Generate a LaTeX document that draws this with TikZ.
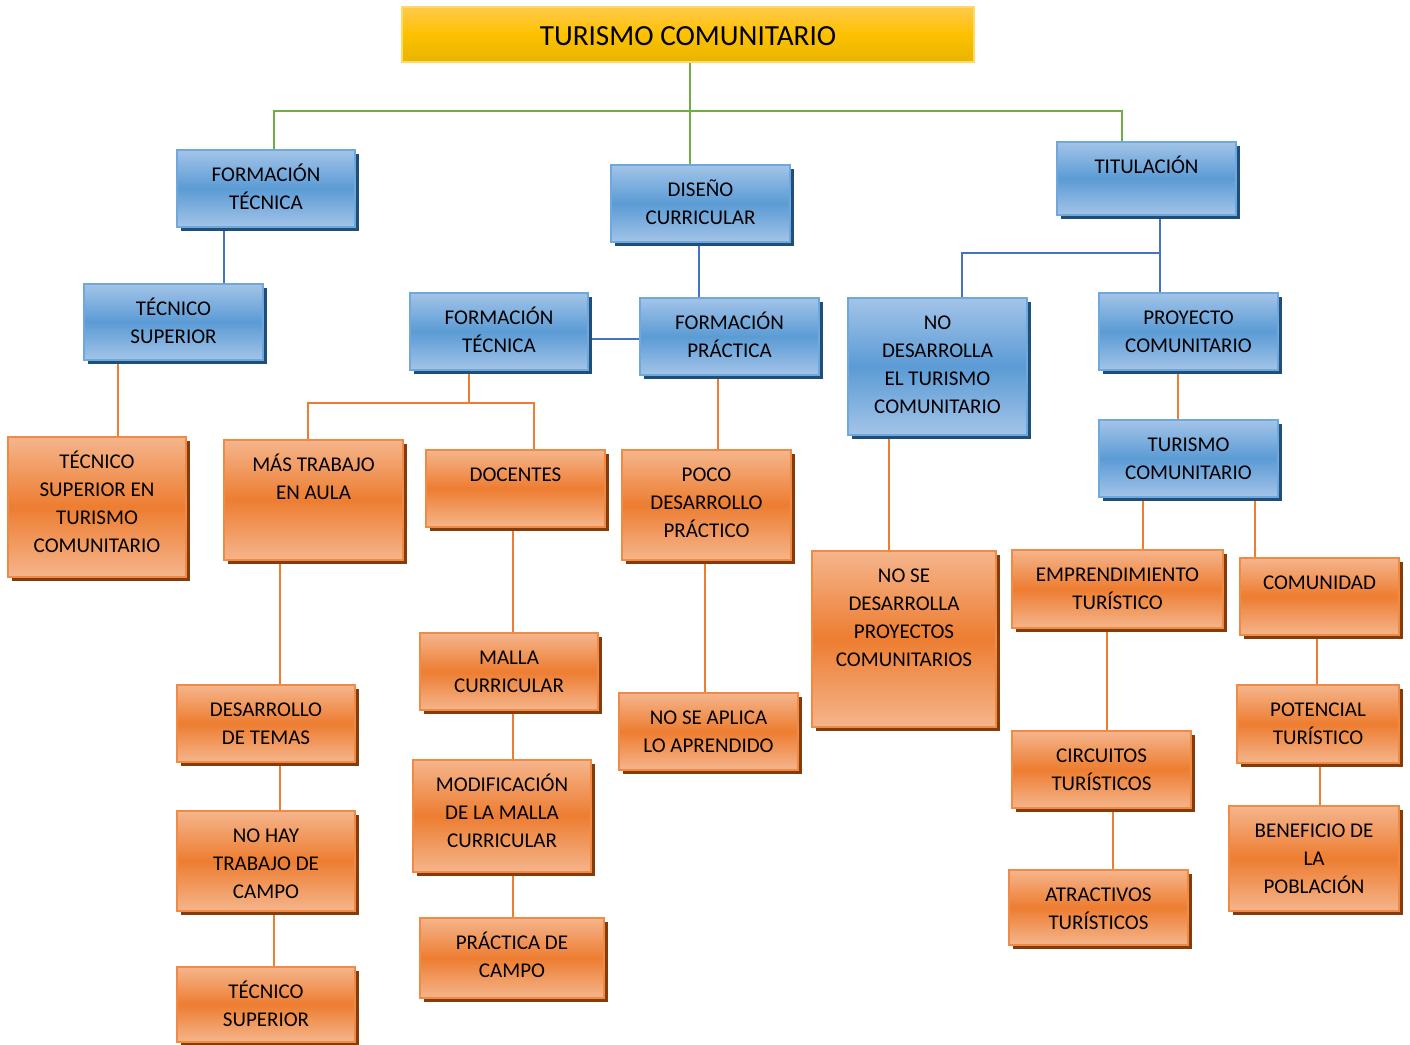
\documentclass[tikz,border=0pt]{standalone}
\usepackage{fontspec}
\setmainfont{Carlito}
\usetikzlibrary{fit,shadows,backgrounds}

\definecolor{blueLt}{HTML}{A3C4E8}
\definecolor{blueMd}{HTML}{5B9BD5}
\definecolor{blueEdge}{HTML}{6FA8DC}
\definecolor{blueShd}{HTML}{1F4E79}
\definecolor{oraLt}{HTML}{F5B58C}
\definecolor{oraMd}{HTML}{ED7D31}
\definecolor{oraEdge}{HTML}{F08A45}
\definecolor{oraShd}{HTML}{843C0C}
\definecolor{yelLt}{HTML}{FFC94A}
\definecolor{yelMd}{HTML}{FDC100}
\definecolor{yelDk}{HTML}{E6B500}
\definecolor{yelEdge}{HTML}{FFD966}
\definecolor{lineG}{HTML}{70AD47}
\definecolor{lineB}{HTML}{4472C4}
\definecolor{lineO}{HTML}{ED7D31}

\tikzset{
  boxbase/.style={rectangle, inner sep=0pt, line width=1pt},
  bluebox/.style={boxbase, draw=blueEdge, top color=blueLt, bottom color=blueLt, middle color=blueMd,
    drop shadow={shadow xshift=2pt, shadow yshift=-2pt, fill=blueShd, opacity=1}},
  orabox/.style={boxbase, draw=oraEdge, top color=oraLt, bottom color=oraLt, middle color=oraMd,
    drop shadow={shadow xshift=2pt, shadow yshift=-2pt, fill=oraShd, opacity=1}},
  titlebox/.style={boxbase, draw=yelEdge, top color=yelLt, bottom color=yelDk, middle color=yelMd},
  titletext/.style={anchor=center, inner sep=0pt, yshift=-0.7pt, font=\fontsize{14.6}{17}\selectfont},
  boxtext/.style={anchor=north, align=center, inner sep=0pt, yshift=-6.4pt,
    font=\fontsize{10.5}{14}\selectfont},
  gl/.style={draw=lineG, line width=1pt},
  bl/.style={draw=lineB, line width=1pt},
  ol/.style={draw=lineO, line width=1pt},
}

% #1 style, #2 name, #3 #4 top-left, #5 #6 bottom-right, #7 text
\newcommand\mapbox[7]{%
  \node[#1, fit={(#3,#4)(#5,#6)}] (#2) {};
  \node[boxtext] (#2-t) at (#2.north) {\strut #7};
}

\begin{document}
\begin{tikzpicture}[x=0.5pt, y=-0.5pt]
\useasboundingbox (0,0) rectangle (1410,1045);

% title
\node[titlebox, fit={(402,7)(974,62)}] (title) {};
\node[titletext] (title-t) at (title.center) {TURISMO COMUNITARIO};

% first level (blue)
\mapbox{bluebox}{ft1}{177}{150}{355}{227}{FORMACIÓN\\TÉCNICA}
\mapbox{bluebox}{dc}{611}{165}{790}{242}{DISEÑO\\CURRICULAR}
\mapbox{bluebox}{tit}{1057}{142}{1236}{215}{TITULACIÓN}
\mapbox{bluebox}{ts1}{84}{284}{263}{360}{TÉCNICO\\SUPERIOR}
\mapbox{bluebox}{ft2}{410}{293}{588}{370}{FORMACIÓN\\TÉCNICA}
\mapbox{bluebox}{fp}{640}{298}{819}{375}{FORMACIÓN\\PRÁCTICA}
\mapbox{bluebox}{nd}{848}{298}{1027}{435}{NO\\DESARROLLA\\EL TURISMO\\COMUNITARIO}
\mapbox{bluebox}{pc}{1099}{293}{1278}{370}{PROYECTO\\COMUNITARIO}
\mapbox{bluebox}{tc}{1099}{420}{1278}{497}{TURISMO\\COMUNITARIO}

% lower levels (orange)
\mapbox{orabox}{tset}{8}{437}{186}{577}{TÉCNICO\\SUPERIOR EN\\TURISMO\\COMUNITARIO}
\mapbox{orabox}{mt}{224}{440}{403}{560}{MÁS TRABAJO\\EN AULA}
\mapbox{orabox}{doc}{426}{450}{605}{527}{DOCENTES}
\mapbox{orabox}{poco}{622}{450}{791}{560}{POCO\\DESARROLLO\\PRÁCTICO}
\mapbox{orabox}{nsd}{812}{551}{996}{727}{NO SE\\DESARROLLA\\PROYECTOS\\COMUNITARIOS}
\mapbox{orabox}{emp}{1012}{550}{1223}{628}{EMPRENDIMIENTO\\TURÍSTICO}
\mapbox{orabox}{com}{1240}{558}{1399}{635}{COMUNIDAD}
\mapbox{orabox}{dt}{177}{685}{355}{762}{DESARROLLO\\DE TEMAS}
\mapbox{orabox}{mc}{420}{633}{598}{710}{MALLA\\CURRICULAR}
\mapbox{orabox}{nsa}{619}{693}{798}{770}{NO SE APLICA\\LO APRENDIDO}
\mapbox{orabox}{cir}{1012}{731}{1191}{808}{CIRCUITOS\\TURÍSTICOS}
\mapbox{orabox}{pot}{1237}{685}{1399}{763}{POTENCIAL\\TURÍSTICO}
\mapbox{orabox}{nh}{177}{811}{355}{911}{NO HAY\\TRABAJO DE\\CAMPO}
\mapbox{orabox}{mod}{413}{760}{591}{872}{MODIFICACIÓN\\DE LA MALLA\\CURRICULAR}
\mapbox{orabox}{atr}{1009}{870}{1188}{945}{ATRACTIVOS\\TURÍSTICOS}
\mapbox{orabox}{ben}{1229}{806}{1399}{911}{BENEFICIO DE\\LA\\POBLACIÓN}
\mapbox{orabox}{ts2}{177}{967}{355}{1042}{TÉCNICO\\SUPERIOR}
\mapbox{orabox}{pdc}{420}{918}{604}{998}{PRÁCTICA DE\\CAMPO}

\begin{scope}[on background layer]
  % green bus under the title
  \coordinate (busL) at (274,111);
  \coordinate (busM) at (690,111);
  \coordinate (busR) at (1122,111);
  \draw[gl] (title.south -| busM) -- (dc.north -| busM);
  \draw[gl] (ft1.north -| busL) |- (busR) -- (tit.north -| busR);

  % blue links
  \draw[bl] (ft1.south -| 224,0) -- (ts1.north -| 224,0);
  \draw[bl] (dc.south -| 699,0) -- (fp.north -| 699,0);
  \draw[bl] (ft2.east |- 0,339) -- (fp.west |- 0,339);
  \coordinate (tj) at (1160,253);
  \draw[bl] (tit.south -| tj) -- (tj) -| (nd.north -| 962,0);
  \draw[bl] (tj) -- (pc.north -| tj);

  % orange links
  \draw[ol] (ts1.south -| 118,0) -- (tset.north -| 118,0);
  \coordinate (fj) at (469,403);
  \draw[ol] (ft2.south -| fj) -- (fj);
  \draw[ol] (mt.north -| 308,0) |- (fj) -| (doc.north -| 534,0);
  \draw[ol] (fp.south -| 718,0) -- (poco.north -| 718,0);
  \draw[ol] (nd.south -| 889,0) -- (nsd.north -| 889,0);
  \draw[ol] (pc.south -| 1178,0) -- (tc.north -| 1178,0);
  \draw[ol] (tc.south -| 1143,0) -- (emp.north -| 1143,0);
  \draw[ol] (tc.south -| 1255,0) -- (com.north -| 1255,0);
  \draw[ol] (mt.south -| 280,0) -- (dt.north -| 280,0);
  \draw[ol] (doc.south -| 513,0) -- (mc.north -| 513,0);
  \draw[ol] (poco.south -| 705,0) -- (nsa.north -| 705,0);
  \draw[ol] (emp.south -| 1107,0) -- (cir.north -| 1107,0);
  \draw[ol] (com.south -| 1317,0) -- (pot.north -| 1317,0);
  \draw[ol] (dt.south -| 280,0) -- (nh.north -| 280,0);
  \draw[ol] (mc.south -| 513,0) -- (mod.north -| 513,0);
  \draw[ol] (cir.south -| 1113,0) -- (atr.north -| 1113,0);
  \draw[ol] (pot.south -| 1320,0) -- (ben.north -| 1320,0);
  \draw[ol] (nh.south -| 274,0) -- (ts2.north -| 274,0);
  \draw[ol] (mod.south -| 513,0) -- (pdc.north -| 513,0);
\end{scope}
\end{tikzpicture}
\end{document}
